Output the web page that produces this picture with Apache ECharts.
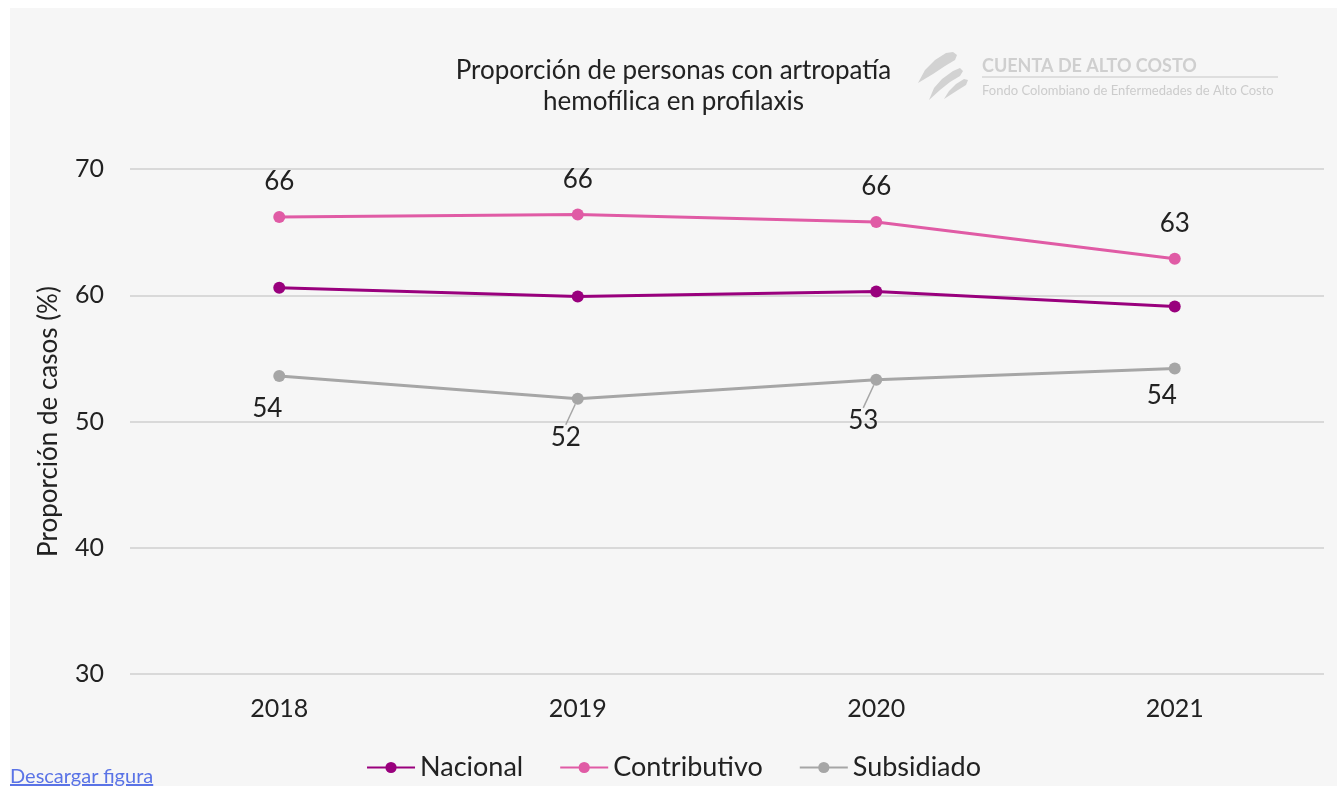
<!DOCTYPE html>
<html>
<head>
    <meta charset="UTF-8">
    <title>Artropatía hemofílica en profilaxis</title>
    <script src="https://cdn.jsdelivr.net/npm/echarts@6/dist/echarts.min.js"></script>
    <style>
        body { margin: 0; background: #fff; font-family: Lato, sans-serif; }
        #main { position: absolute; left: 10px; top: 8px; width: 1327px; height: 778px; background: #f6f6f6; }
        #descargar { position: absolute; left: 10px; top: 763px; font-size: 20px; color: #5a73e6; text-decoration: underline; font-family: Lato, sans-serif; }
    </style>
</head>
<body>
<div id="main"></div>
<a id="descargar" href="#">Descargar figura</a>
<script>
    // datos
    var years = ['2018', '2019', '2020', '2021'];
    var nacional = [60.6, 59.9, 60.3, 59.1];
    var contributivo = [66.2, 66.4, 65.8, 62.9];
    var subsidiado = [53.6, 51.8, 53.3, 54.2];
    var yTicks = [30, 40, 50, 60, 70];

    // desplazamiento de etiquetas de Subsidiado y si llevan línea guía
    var subOffsets = [[-12, -6], [-12, 0], [-13, 2], [-13, -12]];
    var subLeader = [false, true, true, false];

    var chart = echarts.init(document.getElementById('main'));
    var font = 'Lato, sans-serif';
    var logoGray = '#d2d2d2';

    var option = {
        backgroundColor: '#f6f6f6',
        textStyle: { fontFamily: font },
        title: {
            text: 'Proporción de personas con artropatía\nhemofílica en profilaxis',
            left: 'center',
            top: 42,
            textStyle: { fontSize: 26, fontWeight: 'normal', color: '#222', lineHeight: 31, fontFamily: font }
        },
        graphic: [
            { type: 'polygon', shape: { points: [[908, 75], [915, 62], [925, 52], [936, 45], [943, 44], [947, 47], [945, 52], [935, 58], [923, 66]] }, style: { fill: logoGray } },
            { type: 'polygon', shape: { points: [[919, 92], [924, 80], [932, 71], [943, 63], [950, 60], [953, 63], [950, 68], [940, 74], [930, 82]] }, style: { fill: logoGray } },
            { type: 'polygon', shape: { points: [[934, 91], [939, 83], [946, 76], [954, 71], [958, 72], [956, 77], [948, 82]] }, style: { fill: logoGray } },
            { type: 'text', left: 972, top: 49, style: { text: 'CUENTA DE ALTO COSTO', fontSize: 18, fontWeight: 'bold', fill: '#cfcfcf', fontFamily: font } },
            { type: 'line', shape: { x1: 972, y1: 69, x2: 1268, y2: 69 }, style: { stroke: '#d6d6d6', lineWidth: 1.5 } },
            { type: 'text', left: 972, top: 76, style: { text: 'Fondo Colombiano de Enfermedades de Alto Costo', fontSize: 13, fill: '#cccccc', fontFamily: font } }
        ],
        legend: {
            bottom: 0,
            left: 'center',
            itemWidth: 48,
            itemHeight: 14,
            itemGap: 36,
            textStyle: { fontSize: 27, color: '#222', fontFamily: font },
            data: ['Nacional', 'Contributivo', 'Subsidiado']
        },
        grid: { left: 120, right: 13, top: 161, bottom: 112 },
        xAxis: {
            type: 'category',
            data: years,
            boundaryGap: true,
            axisLine: { show: false },
            axisTick: { show: false },
            axisLabel: { fontSize: 25, color: '#222', margin: 22 }
        },
        yAxis: {
            type: 'value',
            min: yTicks[0],
            max: yTicks[yTicks.length - 1],
            interval: 10,
            name: 'Proporción de casos (%)',
            nameLocation: 'middle',
            nameGap: 68,
            nameTextStyle: { fontSize: 26, color: '#222' },
            axisLine: { show: false },
            axisTick: { show: false },
            axisLabel: { fontSize: 25, color: '#222', margin: 26 },
            splitLine: { lineStyle: { color: '#d9d9d9', width: 2 } }
        },
        series: [
            {
                name: 'Nacional',
                type: 'line',
                data: nacional,
                color: '#99007d',
                symbol: 'circle',
                symbolSize: 12,
                lineStyle: { width: 3 }
            },
            {
                name: 'Contributivo',
                type: 'line',
                data: contributivo,
                color: '#e05ba5',
                symbol: 'circle',
                symbolSize: 12,
                lineStyle: { width: 3 },
                label: {
                    show: true,
                    position: 'top',
                    distance: 16,
                    fontSize: 26,
                    color: '#222',
                    formatter: function (p) { return Math.round(p.value); }
                }
            },
            {
                name: 'Subsidiado',
                type: 'line',
                data: subsidiado.map(function (v, i) {
                    return { value: v, labelLine: { show: subLeader[i] } };
                }),
                color: '#a6a6a6',
                symbol: 'circle',
                symbolSize: 12,
                lineStyle: { width: 3 },
                label: {
                    show: true,
                    position: 'bottom',
                    distance: 20,
                    fontSize: 26,
                    color: '#222',
                    formatter: function (p) { return Math.round(p.value); }
                },
                labelLine: { show: true, lineStyle: { color: '#a6a6a6', width: 1.5 } },
                labelLayout: function (params) {
                    var o = subOffsets[params.dataIndex];
                    return { dx: o[0], dy: o[1] };
                }
            }
        ]
    };

    chart.setOption(option);
</script>
</body>
</html>
